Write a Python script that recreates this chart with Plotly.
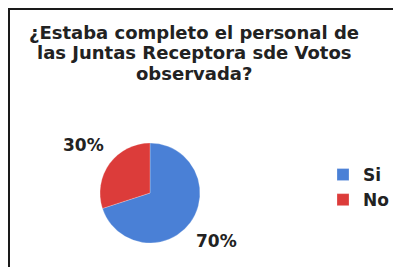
import math
import plotly.graph_objects as go

labels = ["Si", "No"]
values = [70, 30]
colors = ["#4a80d6", "#dc3c3a"]
title_lines = ["¿Estaba completo el personal de", "las Juntas Receptora sde Votos", "observada?"]

W, H = 401, 267
FONT = "DejaVu Sans"
TXT = "#222222"

# pie placement (pixels within the figure)
cx, cy, r = 142, 185, 50   # centre from left / from top, radius
label_r = 82

fig = go.Figure(go.Pie(
    labels=labels,
    values=values,
    sort=False,
    direction="clockwise",
    rotation=0,
    marker=dict(colors=colors, line=dict(color="rgba(255,255,255,0.4)", width=0.6)),
    textinfo="none",
    domain=dict(x=[(cx - r) / W, (cx + r) / W], y=[(H - cy - r) / H, (H - cy + r) / H]),
    showlegend=True,
))

annotations = []
# percentage labels outside the slices, at each slice's mid-angle
total = sum(values)
cum = 0
for v in values:
    mid = (cum + v / 2) / total * 2 * math.pi
    cum += v
    px = cx + label_r * math.sin(mid)
    py = cy - label_r * math.cos(mid)
    annotations.append(dict(
        text=f"{round(100 * v / total)}%", x=px / W, y=1 - py / H,
        xref="paper", yref="paper", xanchor="center", yanchor="middle", showarrow=False,
        font=dict(family=FONT, size=17, color=TXT, weight="bold"),
    ))

# title, one annotation per line
for i, line in enumerate(title_lines):
    annotations.append(dict(
        text=line, x=186 / W, y=1 - (24 + 21 * i) / H, xref="paper", yref="paper",
        xanchor="center", yanchor="middle", showarrow=False,
        font=dict(family=FONT, size=18, color=TXT, weight="bold"),
    ))

fig.update_layout(
    width=W, height=H,
    margin=dict(l=0, r=0, t=0, b=0),
    paper_bgcolor="white",
    plot_bgcolor="white",
    showlegend=True,
    legend=dict(
        x=315 / W, y=1 - 149 / H, xanchor="left", yanchor="top",
        font=dict(family=FONT, size=17, color=TXT, weight="bold"),
        bgcolor="rgba(0,0,0,0)",
    ),
    annotations=annotations,
    shapes=[
        dict(type="line", xref="paper", yref="paper", x0=0, x1=1.01, y0=1 - 0.5 / H, y1=1 - 0.5 / H,
             line=dict(color="#1a1a1a", width=3)),
        dict(type="line", xref="paper", yref="paper", x0=0.5 / W, x1=0.5 / W, y0=-0.01, y1=1,
             line=dict(color="#1a1a1a", width=3)),
    ],
)

fig.write_html("out.html")
